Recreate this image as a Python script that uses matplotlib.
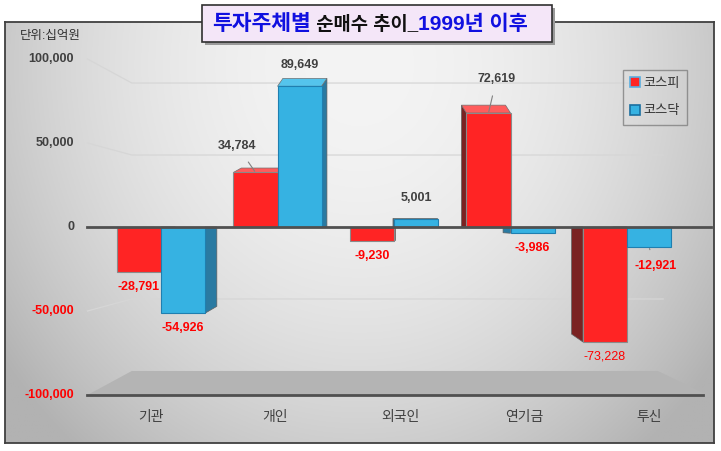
import matplotlib
matplotlib.use('Agg')
import matplotlib.pyplot as plt
import numpy as np
from matplotlib.patches import Polygon, Rectangle, Patch
from matplotlib.offsetbox import TextArea, HPacker, AnnotationBbox

categories = ['기관', '개인', '외국인', '연기금', '투신']
kospi = [-28791, 34784, -9230, 72619, -73228]
kosdaq = [-54926, 89649, 5001, -3986, -12921]
series_names = ['코스피', '코스닥']
yticks = [100000, 50000, 0, -50000, -100000]
unit_label = '단위:십억원'

plt.rcParams['font.family'] = ['Liberation Sans', 'Noto Sans CJK KR']

W, H = 721, 451
fig = plt.figure(figsize=(W / 100, H / 100), dpi=100)
fig.patch.set_facecolor('white')


def fx(x):
    return x / W


def fy(y):
    return 1 - y / H


# background box with soft radial gradient
bx0, by0, bx1, by1 = 5, 22, 714, 443
bg = fig.add_axes([fx(bx0), fy(by1), (bx1 - bx0) / W, (by1 - by0) / H])
gx, gy = np.meshgrid(np.linspace(-1, 1, 400), np.linspace(0, 1, 300))
r2 = gx ** 2 + ((gy - 0.1) / 0.95) ** 2
g = np.clip(244 - 42 * r2, 178, 250) / 255
bg.imshow(np.dstack([g, g, g]), aspect='auto', extent=(0, 1, 1, 0))
bg.set_xlim(0, 1)
bg.set_ylim(1, 0)
bg.set_xticks([])
bg.set_yticks([])
for s in bg.spines.values():
    s.set_color('#404040')
    s.set_linewidth(1.3)

# main axes: bar plane, 116.5 px per category, 157 px per 100,000
ax = fig.add_axes([0, 0, 1, 1])
ax.set_facecolor('none')
ax.axis('off')
ax.set_xlim(2 - 394 / 116.5, 2 + (W - 394) / 116.5)
ax.set_ylim((227 - H) / 157e-5, 227 / 157e-5)

CX = 2.03
S_FRONT, S_BACK = 1.07, 0.917
HALF = 2.487


def proj(x, v, s):
    return CX + (x - CX) * s, v * s


ymin, ymax = yticks[-1], yticks[0]

# floor
floor = [proj(CX - HALF, ymin, S_FRONT), proj(CX + HALF, ymin, S_FRONT),
         proj(CX + HALF * 0.98, ymin, S_BACK), proj(CX - HALF, ymin, S_BACK)]
ax.add_patch(Polygon(floor, closed=True, fc='#b4b4b4', ec='none', zorder=1))
fl, fr = proj(CX - HALF, ymin, S_FRONT), proj(CX + HALF * 0.985, ymin, S_FRONT)
ax.plot([fl[0], fr[0]], [fl[1], fr[1]], color='#505050', lw=2, zorder=1.5)

# back wall gridlines + left wall
for v in yticks:
    if v in (0, ymin):
        continue
    a = proj(CX - HALF, v, S_FRONT)
    b = proj(CX - HALF, v, S_BACK)
    c = proj(CX + HALF, v, S_BACK)
    ax.plot([a[0], b[0], c[0]], [a[1], b[1], c[1]], color='#d6d6d6', lw=0.9, zorder=1)

# bars with fake depth
w = 0.378
red, blue = '#ff2424', '#36b2e2'
side_c = ['#7a2222', '#2a7aa2']
top_c = ['#ff5c5c', '#55c4ec']
for k, vals in enumerate([kospi, kosdaq]):
    for i, v in enumerate(vals):
        x0 = i - w if k == 0 else i
        x1 = x0 + w
        xc = (x0 + x1) / 2
        dx = -(xc - CX) * 0.055
        dy = min(5000, abs(v) * 0.08)
        e = x1 if xc < CX else x0
        ax.add_patch(Polygon([(e, 0), (e, v), (e + dx, v + dy), (e + dx, 0)],
                             closed=True, fc=side_c[k], ec='#606060', lw=0.5, zorder=2))
        if v > 0:
            ax.add_patch(Polygon([(x0, v), (x1, v), (x1 + dx, v + dy), (x0 + dx, v + dy)],
                                 closed=True, fc=top_c[k], ec='#707070', lw=0.5, zorder=2))

x = np.arange(len(categories))
ax.bar(x - w, kospi, w, align='edge', color=red, edgecolor='#8a8a8a', lw=0.8, zorder=3)
ax.bar(x, kosdaq, w, align='edge', color=blue, edgecolor='#1f7fb0', lw=0.8, zorder=3)

zl, zr = proj(CX - HALF, 0, S_FRONT), proj(CX + HALF * 1.01, 0, S_FRONT)
ax.plot([zl[0], zr[0]], [0, 0], color='#505050', lw=2, zorder=4)

# data labels (offset in pixels, special ones with leader lines)
special = {(0, 1): (-18, 26), (0, 3): (8, 34), (1, 4): (7, -19)}
for k, vals in enumerate([kospi, kosdaq]):
    for i, v in enumerate(vals):
        xc = i - w / 2 if k == 0 else i + w / 2
        off = special.get((k, i), (0, 21 if v > 0 else -15))
        col = '#404040' if v > 0 else '#ff0000'
        wt = 'normal' if (k, i) == (0, 4) else 'bold'
        ap = dict(arrowstyle='-', color='#808080', lw=0.8, shrinkA=6, shrinkB=1) if (k, i) in special else None
        ax.annotate(f'{v:,}', (xc, v), xytext=off, textcoords='offset pixels',
                    ha='center', va='center', fontsize=9, color=col, fontweight=wt,
                    arrowprops=ap, zorder=5)

# y tick labels on front plane
for v in yticks:
    ax.text(fx(74), proj(0, v, S_FRONT)[1], f'{v:,}', transform=ax.get_yaxis_transform(),
            ha='right', va='center', fontsize=9, fontweight='bold',
            color='#ff0000' if v < 0 else '#404040')

# category labels
for i, c in enumerate(categories):
    ax.text(proj(i + 0.05, 0, S_FRONT)[0], fy(417), c, transform=ax.get_xaxis_transform(),
            ha='center', va='center', fontsize=10, color='#404040')

fig.text(fx(20), fy(36), unit_label, ha='left', va='center', fontsize=9, color='#303030')

# legend
handles = [Patch(fc=red, ec='#5aaee0', lw=1.2), Patch(fc=blue, ec='#1a6fa0', lw=1.2)]
fig.legend(handles, series_names, loc='upper left', bbox_to_anchor=(fx(623), fy(70)),
           fontsize=9.5, frameon=True, fancybox=False, edgecolor='#808080', facecolor='none',
           handlelength=0.75, handleheight=0.75, handletextpad=0.25, labelspacing=1.15,
           borderpad=0.55, borderaxespad=0, labelcolor='#333333')

# title box
fig.patches.append(Rectangle((fx(205), fy(45)), 350 / W, 37 / H, transform=fig.transFigure,
                             fc='#9a9a9a', ec='none', zorder=5))
fig.patches.append(Rectangle((fx(202), fy(42)), 350 / W, 37 / H, transform=fig.transFigure,
                             fc='#f4e6f8', ec='#303030', lw=1.2, zorder=6))
t1 = TextArea('투자주체별', textprops=dict(fontsize=15.5, fontweight='bold', color='#1010e0'))
t2 = TextArea(' 순매수 추이_', textprops=dict(fontsize=13.5, fontweight='bold', color='#111111'))
t3 = TextArea('1999년 이후', textprops=dict(fontsize=15, fontweight='bold', color='#1010e0'))
pack = HPacker(children=[t1, t2, t3], align='baseline', pad=0, sep=0)
ab = AnnotationBbox(pack, (fx(370), fy(24)), xycoords='figure fraction', frameon=False,
                    box_alignment=(0.5, 0.5), zorder=7)
fig.add_artist(ab)

fig.savefig('out.png', dpi=100)
